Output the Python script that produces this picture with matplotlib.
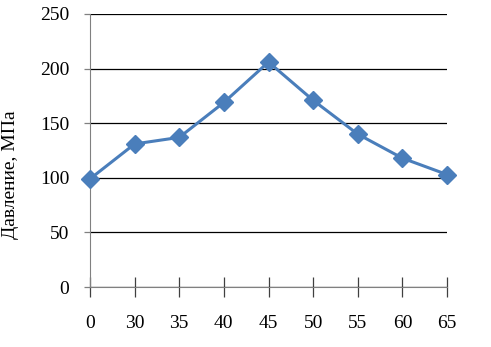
import matplotlib.pyplot as plt

plt.rcParams['font.family'] = ['Liberation Serif', 'DejaVu Serif']

categories = ['0', '30', '35', '40', '45', '50', '55', '60', '65']
pressure = [99, 131, 137, 169, 206, 171, 140, 118, 103]

fig = plt.figure(figsize=(4.91, 3.47), dpi=100)
ax = fig.add_axes([90 / 491, 1 - 287 / 347, 357 / 491, 273 / 347])

x = list(range(len(categories)))
ax.plot(x, pressure, color='#4a7ebb', linewidth=2.2, marker='D',
        markersize=9, markerfacecolor='#4a7ebb', markeredgecolor='#4a7ebb',
        zorder=3, clip_on=False)

ax.set_xlim(0, len(categories) - 1)
ax.set_ylim(0, 250)
ax.set_yticks(range(0, 251, 50))
ax.set_xticks(x)
ax.set_xticklabels(categories)

ax.yaxis.grid(True, color='black', linewidth=0.9)
ax.set_axisbelow(True)
for side in ['top', 'right']:
    ax.spines[side].set_visible(False)
ax.spines['left'].set_color('#808080')
ax.spines['bottom'].set_color('#808080')

ax.tick_params(axis='y', direction='out', length=4, width=0.9, color='#808080',
               labelsize=14, pad=11)
ax.tick_params(axis='x', direction='inout', length=14, width=0.9, color='#404040',
               labelsize=14, pad=13)

ax.set_ylabel('Давление, МПа', fontsize=14)
ax.yaxis.set_label_coords(-0.2, 0.41)

fig.savefig('out.png', dpi=100)
